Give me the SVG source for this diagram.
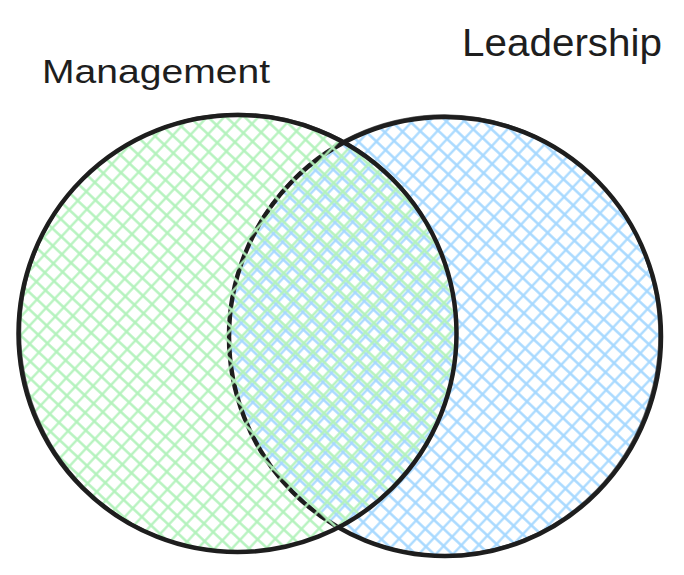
<svg xmlns="http://www.w3.org/2000/svg" width="684" height="575" viewBox="0 0 684 575">
<style>
.outline{fill:none;stroke:#1e1e1e;stroke-width:4.5;stroke-linecap:round}
.thin{fill:none;stroke:#1e1e1e;stroke-width:1.5;opacity:.7}
.label{font-family:"Liberation Sans",Arial,sans-serif;fill:#1e1e1e}
</style>
<defs>
<pattern id="hGreen" patternUnits="userSpaceOnUse" width="12.5" height="12.5" patternTransform="rotate(43)">
<path d="M6.25 0V12.5M0 6.25H12.5" stroke="#b2f2bb" stroke-width="2.2" fill="none"/>
</pattern>
<pattern id="hBlue" patternUnits="userSpaceOnUse" width="12.5" height="12.5" patternTransform="rotate(43) translate(3 3)">
<path d="M6.25 0V12.5M0 6.25H12.5" stroke="#a5d8ff" stroke-width="2.2" fill="none"/>
</pattern>
</defs>
<g id="leadership-circle">
<ellipse cx="445" cy="336.5" rx="215" ry="219" fill="url(#hBlue)"/>
<ellipse class="outline" cx="445" cy="336.5" rx="216" ry="219.5"/>
<ellipse class="thin" cx="444" cy="335" rx="215" ry="220"/>
</g>
<g id="management-circle">
<ellipse cx="237.5" cy="333.5" rx="217" ry="217" fill="url(#hGreen)"/>
<ellipse class="outline" cx="237.5" cy="333.5" rx="219" ry="218.5"/>
<ellipse class="thin" cx="238.5" cy="332.5" rx="218" ry="219"/>
</g>
<g id="management-label">
<text class="label" x="42" y="83" font-size="33" textLength="228" lengthAdjust="spacingAndGlyphs">Management</text>
</g>
<g id="leadership-label">
<text class="label" x="462" y="56" font-size="38" textLength="200" lengthAdjust="spacingAndGlyphs">Leadership</text>
</g>
<g id="connectors"/>
</svg>
